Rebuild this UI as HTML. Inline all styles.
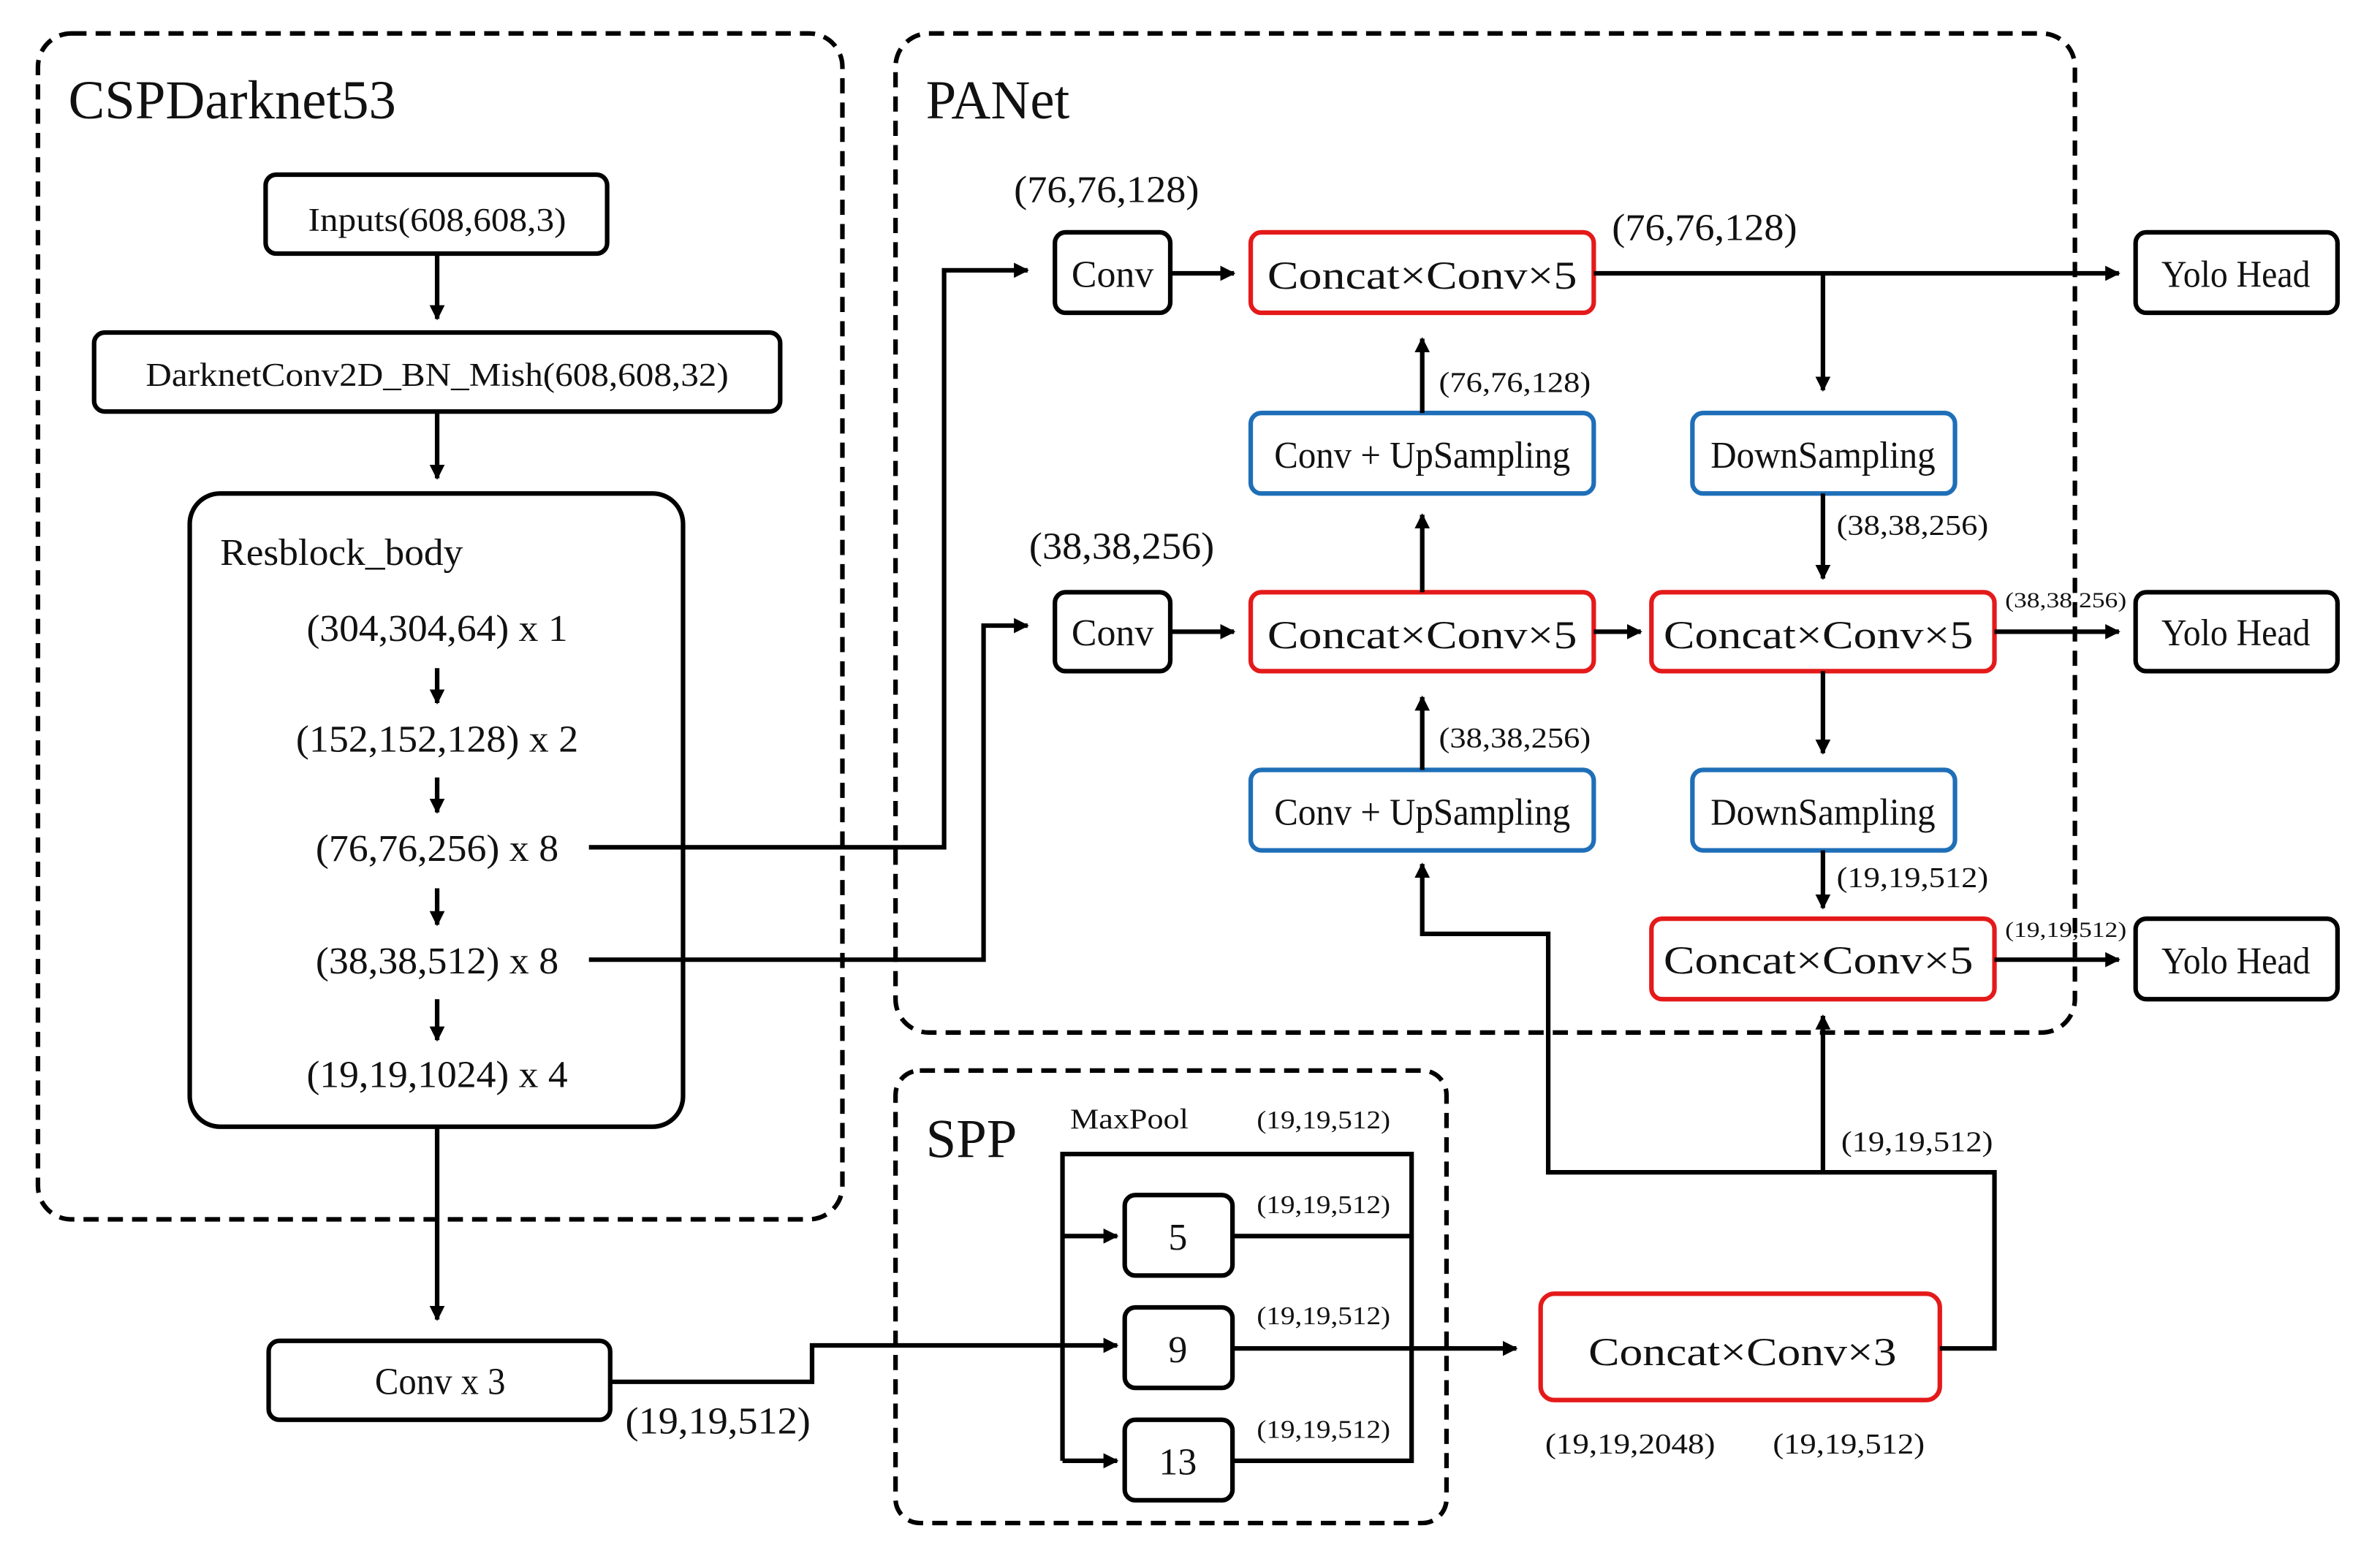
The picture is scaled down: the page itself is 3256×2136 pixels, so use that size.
<!DOCTYPE html>
<html><head><meta charset="utf-8"><style>
html,body{margin:0;padding:0;background:#fff;}
svg{display:block;}
text{font-family:"Liberation Serif",serif;fill:#111;}
</style></head><body>
<svg width="3256" height="2136" viewBox="0 0 1568 1028" preserveAspectRatio="none" xmlns="http://www.w3.org/2000/svg">
<defs>
<marker id="a" markerWidth="10" markerHeight="10" refX="9" refY="5" orient="auto" markerUnits="userSpaceOnUse"><path d="M0,0 L10,5 L0,10 z" fill="#000"/></marker>
</defs>
<g fill="none" stroke="#000" stroke-width="3" stroke-dasharray="10,6">
<rect x="25" y="22" width="530" height="781" rx="22"/>
<rect x="590" y="22" width="777" height="658" rx="22"/>
<rect x="590" y="705" width="363" height="298" rx="16"/>
</g>
<g font-size="36">
<text x="45" y="78">CSPDarknet53</text>
<text x="610" y="78">PANet</text>
<text x="610" y="762">SPP</text>
</g>
<g fill="#fff" stroke="#000" stroke-width="3">
<rect x="175" y="115" width="225" height="52" rx="7"/>
<rect x="62" y="219" width="452" height="52" rx="7"/>
<rect x="125" y="325" width="325" height="417" rx="20"/>
<rect x="177" y="883" width="225" height="52" rx="7"/>
<rect x="695" y="153" width="76" height="53" rx="7"/>
<rect x="695" y="390" width="76" height="52" rx="7"/>
<rect x="1407" y="153" width="133" height="53" rx="7"/>
<rect x="1407" y="390" width="133" height="52" rx="7"/>
<rect x="1407" y="605" width="133" height="53" rx="7"/>
<rect x="741" y="787" width="71" height="53" rx="7"/>
<rect x="741" y="861" width="71" height="53" rx="7"/>
<rect x="741" y="935" width="71" height="53" rx="7"/>
</g>
<g fill="#fff" stroke="#e41a1a" stroke-width="3">
<rect x="824" y="153" width="226" height="53" rx="7"/>
<rect x="824" y="390" width="226" height="52" rx="7"/>
<rect x="1088" y="390" width="226" height="52" rx="7"/>
<rect x="1088" y="605" width="226" height="53" rx="7"/>
<rect x="1015" y="852" width="263" height="70" rx="9"/>
</g>
<g fill="#fff" stroke="#1f6fb8" stroke-width="3">
<rect x="824" y="272" width="226" height="53" rx="7"/>
<rect x="824" y="507" width="226" height="53" rx="7"/>
<rect x="1115" y="272" width="173" height="53" rx="7"/>
<rect x="1115" y="507" width="173" height="53" rx="7"/>
</g>
<g fill="none" stroke="#000" stroke-width="3" marker-end="url(#a)">
<path d="M288,167 V210"/>
<path d="M288,271 V315"/>
<path d="M288,440 V463"/>
<path d="M288,512 V535"/>
<path d="M288,585 V609"/>
<path d="M288,658 V685"/>
<path d="M288,742 V869"/>
<path d="M402,910 H535 V886 H736"/>
<path d="M388,558 H622 V178 H677"/>
<path d="M388,632 H648 V412 H677"/>
<path d="M771,180 H813"/>
<path d="M771,416 H813"/>
<path d="M1050,180 H1396"/>
<path d="M1201,180 V257"/>
<path d="M937,272 V223"/>
<path d="M937,390 V339"/>
<path d="M1050,416 H1081"/>
<path d="M1201,325 V381"/>
<path d="M1314,416 H1396"/>
<path d="M937,507 V459"/>
<path d="M1201,442 V496"/>
<path d="M1201,560 V598"/>
<path d="M1314,632 H1396"/>
<path d="M1201,772 H1020 V615 H937 V569"/>
<path d="M1201,772 V669"/>
<path d="M700,814 H736"/>
<path d="M700,962 H736"/>
<path d="M812,888 H999"/>
</g>
<g fill="none" stroke="#000" stroke-width="3">
<path d="M1278,888 H1314 V772 H1201"/>
<path d="M700,962 V760 H930 V962 H812"/>
<path d="M812,814 H930"/>
</g>
<g font-size="22" text-anchor="middle">
<text x="288" y="152" textLength="170" lengthAdjust="spacingAndGlyphs">Inputs(608,608,3)</text>
<text x="288" y="254" textLength="384" lengthAdjust="spacingAndGlyphs">DarknetConv2D_BN_Mish(608,608,32)</text>
</g>
<text x="145" y="372" font-size="25" textLength="160" lengthAdjust="spacingAndGlyphs">Resblock_body</text>
<g font-size="25" text-anchor="middle">
<text x="288" y="422" textLength="172" lengthAdjust="spacingAndGlyphs">(304,304,64) x 1</text>
<text x="288" y="495" textLength="186" lengthAdjust="spacingAndGlyphs">(152,152,128) x 2</text>
<text x="288" y="567" textLength="160" lengthAdjust="spacingAndGlyphs">(76,76,256) x 8</text>
<text x="288" y="641" textLength="160" lengthAdjust="spacingAndGlyphs">(38,38,512) x 8</text>
<text x="288" y="716" textLength="172" lengthAdjust="spacingAndGlyphs">(19,19,1024) x 4</text>
<text x="290" y="918" textLength="86" lengthAdjust="spacingAndGlyphs">Conv x 3</text>
<text x="733" y="189">Conv</text>
<text x="733" y="425">Conv</text>
<text x="1473" y="189" textLength="98" lengthAdjust="spacingAndGlyphs">Yolo Head</text>
<text x="1473" y="425" textLength="98" lengthAdjust="spacingAndGlyphs">Yolo Head</text>
<text x="1473" y="641" textLength="98" lengthAdjust="spacingAndGlyphs">Yolo Head</text>
<text x="937" y="308" textLength="195" lengthAdjust="spacingAndGlyphs">Conv + UpSampling</text>
<text x="937" y="543" textLength="195" lengthAdjust="spacingAndGlyphs">Conv + UpSampling</text>
<text x="1201" y="308" textLength="148" lengthAdjust="spacingAndGlyphs">DownSampling</text>
<text x="1201" y="543" textLength="148" lengthAdjust="spacingAndGlyphs">DownSampling</text>
<text x="776" y="823">5</text>
<text x="776" y="897">9</text>
<text x="776" y="971">13</text>
</g>
<g font-size="26" text-anchor="middle">
<text x="937" y="190" textLength="204" lengthAdjust="spacingAndGlyphs">Concat×Conv×5</text>
<text x="937" y="427" textLength="204" lengthAdjust="spacingAndGlyphs">Concat×Conv×5</text>
<text x="1198" y="427" textLength="204" lengthAdjust="spacingAndGlyphs">Concat×Conv×5</text>
<text x="1198" y="641" textLength="204" lengthAdjust="spacingAndGlyphs">Concat×Conv×5</text>
<text x="1148" y="899" textLength="203" lengthAdjust="spacingAndGlyphs">Concat×Conv×3</text>
</g>
<g font-size="25">
<text x="668" y="133" textLength="122" lengthAdjust="spacingAndGlyphs">(76,76,128)</text>
<text x="678" y="368" textLength="122" lengthAdjust="spacingAndGlyphs">(38,38,256)</text>
<text x="1062" y="158" textLength="122" lengthAdjust="spacingAndGlyphs">(76,76,128)</text>
<text x="412" y="944" textLength="122" lengthAdjust="spacingAndGlyphs">(19,19,512)</text>
</g>
<g font-size="19">
<text x="948" y="258" textLength="100" lengthAdjust="spacingAndGlyphs">(76,76,128)</text>
<text x="1210" y="352" textLength="100" lengthAdjust="spacingAndGlyphs">(38,38,256)</text>
<text x="948" y="492" textLength="100" lengthAdjust="spacingAndGlyphs">(38,38,256)</text>
<text x="1210" y="584" textLength="100" lengthAdjust="spacingAndGlyphs">(19,19,512)</text>
<text x="1213" y="758" textLength="100" lengthAdjust="spacingAndGlyphs">(19,19,512)</text>
<text x="705" y="743" textLength="78" lengthAdjust="spacingAndGlyphs">MaxPool</text>
<text x="1018" y="957" textLength="112" lengthAdjust="spacingAndGlyphs">(19,19,2048)</text>
<text x="1168" y="957" textLength="100" lengthAdjust="spacingAndGlyphs">(19,19,512)</text>
</g>
<g font-size="17">
<text x="828" y="743" textLength="88" lengthAdjust="spacingAndGlyphs">(19,19,512)</text>
<text x="828" y="799" textLength="88" lengthAdjust="spacingAndGlyphs">(19,19,512)</text>
<text x="828" y="872" textLength="88" lengthAdjust="spacingAndGlyphs">(19,19,512)</text>
<text x="828" y="947" textLength="88" lengthAdjust="spacingAndGlyphs">(19,19,512)</text>
</g>
<g font-size="14">
<text x="1321" y="400" textLength="80" lengthAdjust="spacingAndGlyphs">(38,38,256)</text>
<text x="1321" y="617" textLength="80" lengthAdjust="spacingAndGlyphs">(19,19,512)</text>
</g>
</svg>
</body></html>
